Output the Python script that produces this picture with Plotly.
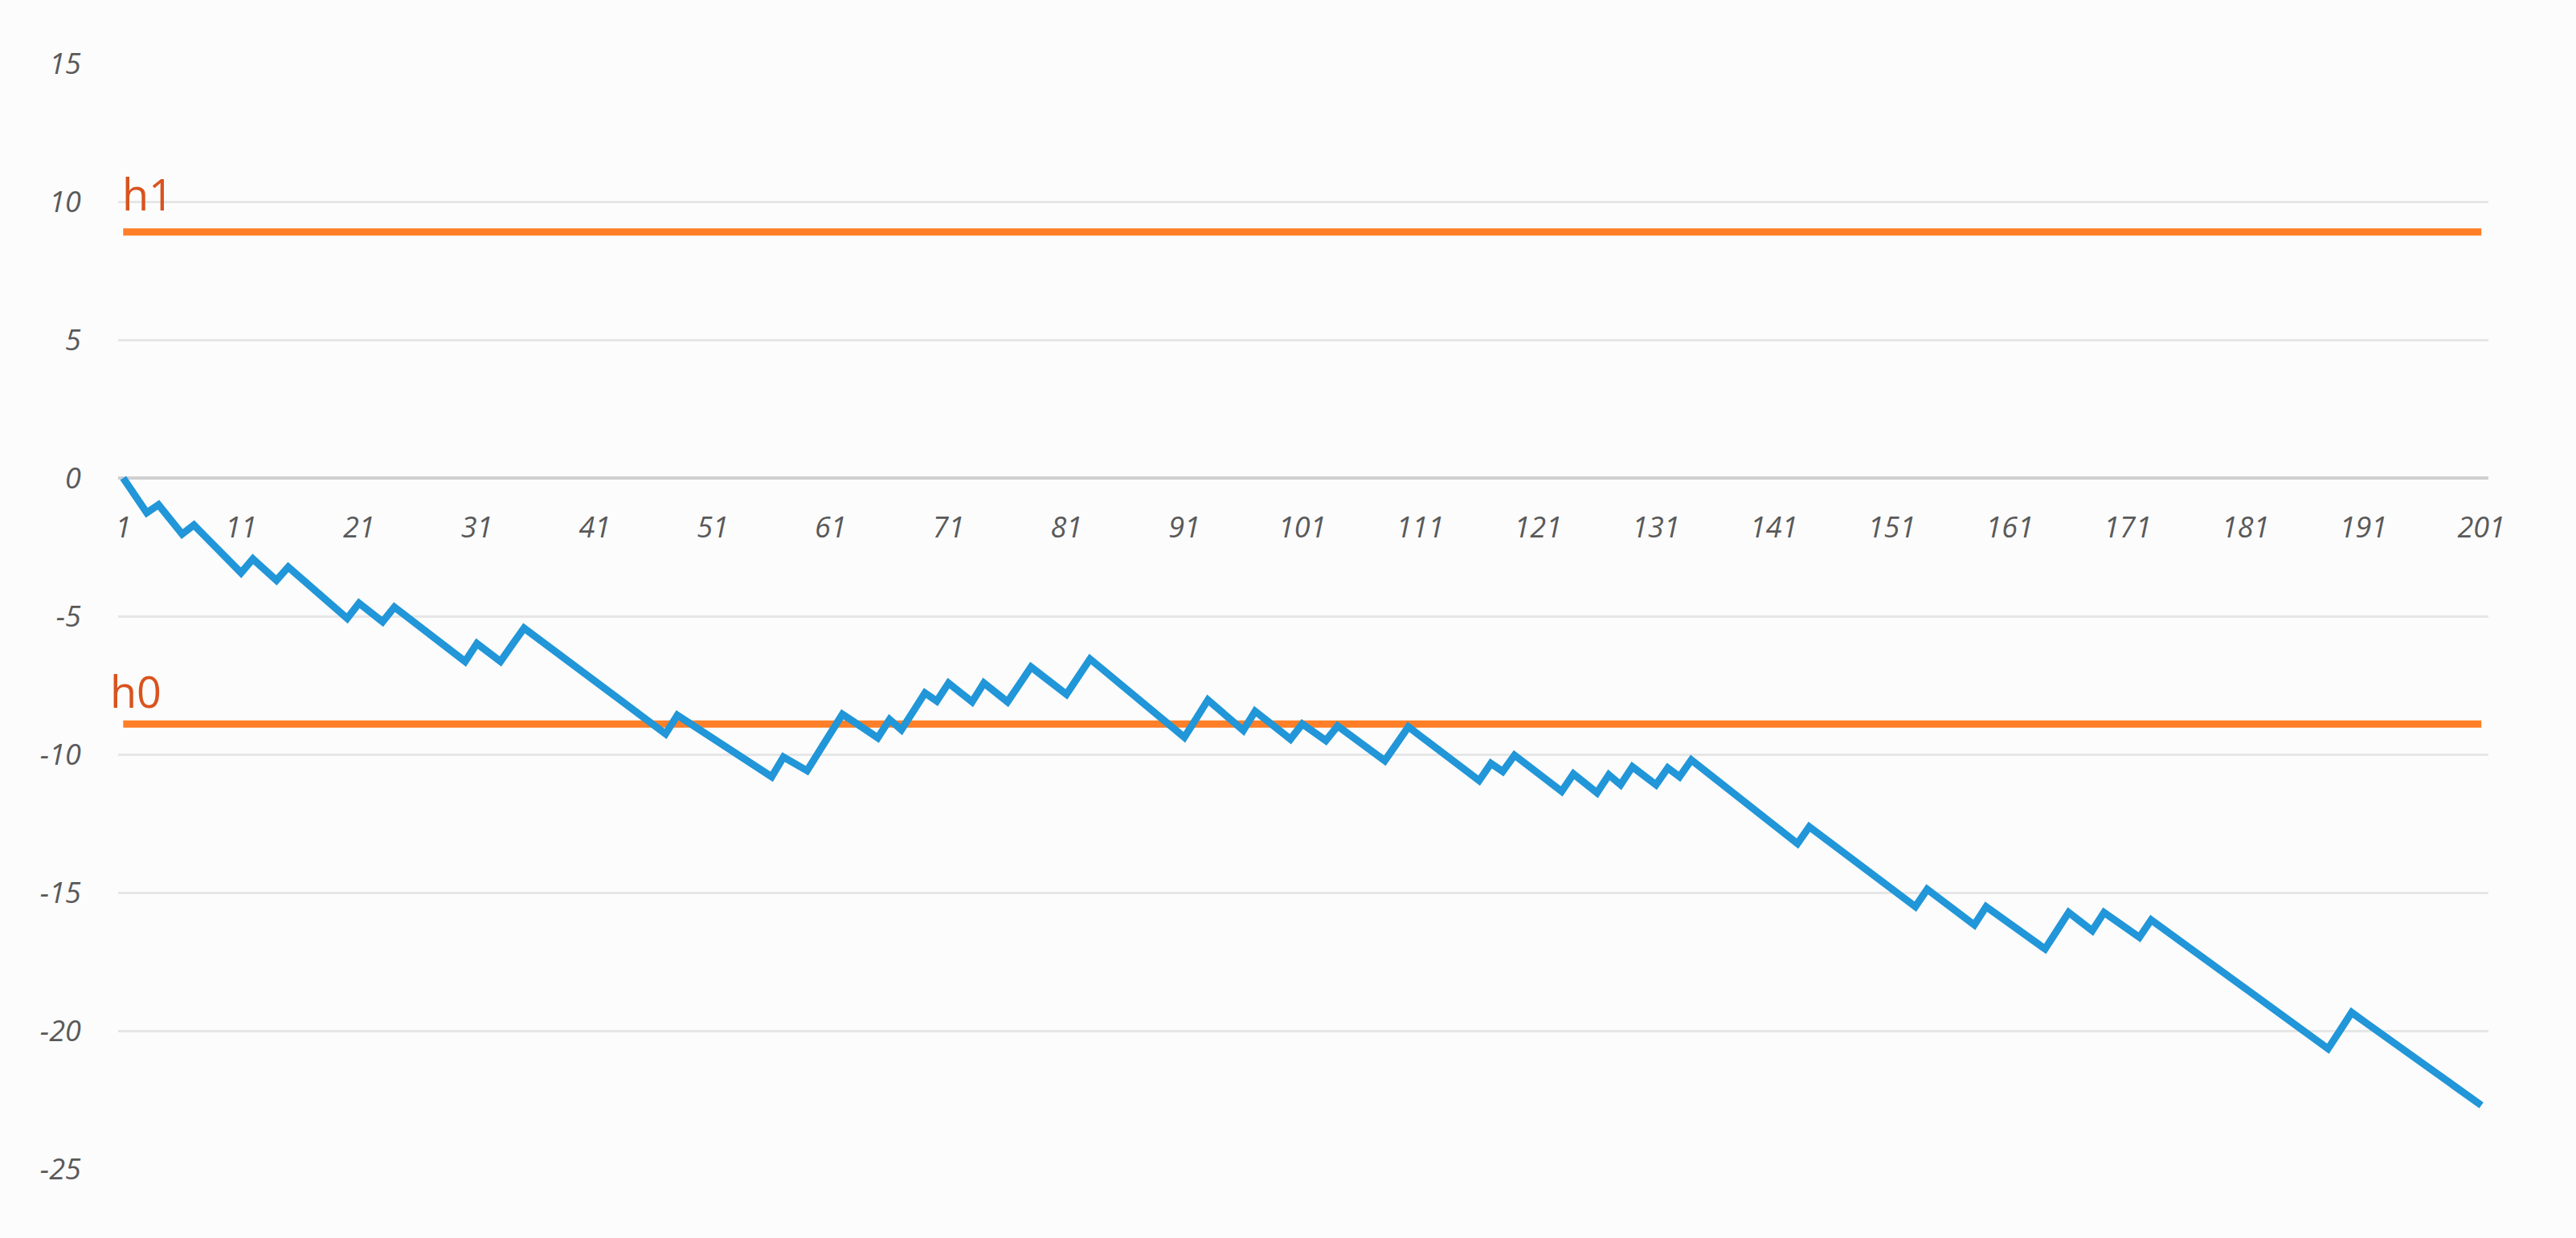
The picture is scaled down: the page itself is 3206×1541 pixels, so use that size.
import plotly.graph_objects as go

stat_values = [
    0.00, -0.63, -1.26, -0.97, -1.50, -2.03, -1.70, -2.13, -2.56, -3.00,
    -3.43, -2.93, -3.32, -3.70, -3.22, -3.59, -3.96, -4.34, -4.71, -5.08,
    -4.53, -4.87, -5.20, -4.67, -5.00, -5.33, -5.66, -5.98, -6.31, -6.64,
    -5.99, -6.32, -6.64, -6.03, -5.43, -5.75, -6.07, -6.39, -6.71, -7.03,
    -7.34, -7.66, -7.98, -8.30, -8.62, -8.94, -9.26, -8.58, -8.86, -9.14,
    -9.42, -9.70, -9.97, -10.25, -10.53, -10.81, -10.10, -10.35, -10.59, -9.91,
    -9.23, -8.55, -8.83, -9.12, -9.40, -8.74, -9.11, -8.45, -7.78, -8.07,
    -7.42, -7.76, -8.10, -7.42, -7.76, -8.10, -7.47, -6.84, -7.17, -7.50,
    -7.83, -7.19, -6.55, -6.90, -7.26, -7.61, -7.97, -8.32, -8.67, -9.03,
    -9.38, -8.71, -8.03, -8.40, -8.76, -9.13, -8.44, -8.78, -9.11, -9.45,
    -8.90, -9.20, -9.50, -8.97, -9.29, -9.60, -9.92, -10.23, -9.62, -9.00,
    -9.33, -9.65, -9.98, -10.30, -10.63, -10.95, -10.33, -10.62, -10.03, -10.36,
    -10.68, -11.01, -11.34, -10.71, -11.05, -11.39, -10.74, -11.10, -10.45, -10.78,
    -11.10, -10.49, -10.81, -10.20, -10.54, -10.87, -11.21, -11.55, -11.88, -12.22,
    -12.56, -12.89, -13.23, -12.62, -12.94, -13.26, -13.58, -13.90, -14.23, -14.55,
    -14.87, -15.19, -15.51, -14.88, -15.20, -15.53, -15.85, -16.17, -15.51, -15.82,
    -16.12, -16.43, -16.73, -17.04, -16.38, -15.72, -16.05, -16.38, -15.72, -16.02,
    -16.32, -16.62, -15.99, -16.30, -16.61, -16.92, -17.23, -17.54, -17.85, -18.16,
    -18.48, -18.79, -19.10, -19.41, -19.72, -20.03, -20.34, -20.65, -20.00, -19.34,
    -19.65, -19.95, -20.26, -20.56, -20.87, -21.17, -21.48, -21.78, -22.09, -22.39,
    -22.70,
]
steps = list(range(1, len(stat_values) + 1))

h1_level = 8.9
h0_level = -8.9

x_ticks = [1, 11, 21, 31, 41, 51, 61, 71, 81, 91, 101, 111, 121, 131, 141, 151, 161, 171, 181, 191, 201]
y_ticks = [15, 10, 5, 0, -5, -10, -15, -20, -25]

BLUE = "#2196d8"
ORANGE = "#fe7f27"
LABEL = "#d9531e"
BG = "#fcfcfc"
tickfont = dict(family="Open Sans", size=36, color="#595959", style="italic")
labelfont = dict(family="Open Sans", size=54, color=LABEL)

fig = go.Figure()
fig.add_trace(go.Scatter(x=steps, y=[h1_level] * len(steps), mode="lines",
                         line=dict(color=ORANGE, width=9), name="h1"))
fig.add_trace(go.Scatter(x=steps, y=[h0_level] * len(steps), mode="lines",
                         line=dict(color=ORANGE, width=9), name="h0"))
fig.add_trace(go.Scatter(x=steps, y=stat_values, mode="lines",
                         line=dict(color=BLUE, width=9), name="stat"))

# labels sit just above each threshold line
fig.add_annotation(x=0.001, y=9.15, xref="paper", yref="y", text="h1", showarrow=False,
                   xanchor="left", yanchor="bottom", font=labelfont)
fig.add_annotation(x=-0.004, y=-8.85, xref="paper", yref="y", text="h0", showarrow=False,
                   xanchor="left", yanchor="bottom", font=labelfont)

fig.update_layout(
    width=3206, height=1541,
    paper_bgcolor=BG, plot_bgcolor=BG,
    showlegend=False,
    hovermode=False,
    margin=dict(l=147, r=109, t=79, b=86, pad=0),
)
fig.update_xaxes(
    type="linear", range=[0.57, 201.6],
    tickvals=x_ticks, ticktext=[str(t) for t in x_ticks],
    tickfont=tickfont, showgrid=False, zeroline=False, showline=False,
    ticks="outside", ticklen=30, tickcolor="rgba(0,0,0,0)",
    anchor="free", position=25 / 40,
)
fig.update_yaxes(
    range=[-25, 15], tickvals=y_ticks, ticktext=[str(t) for t in y_ticks],
    tickfont=tickfont, showgrid=True, gridcolor="#e6e6e6", gridwidth=3,
    zeroline=True, zerolinecolor="#cfcfcf", zerolinewidth=4, showline=False,
    ticks="outside", ticklen=38, tickcolor="rgba(0,0,0,0)",
)

fig.write_html("out.html", config={"displayModeBar": False},
               post_script="document.body.style.margin='0';")
